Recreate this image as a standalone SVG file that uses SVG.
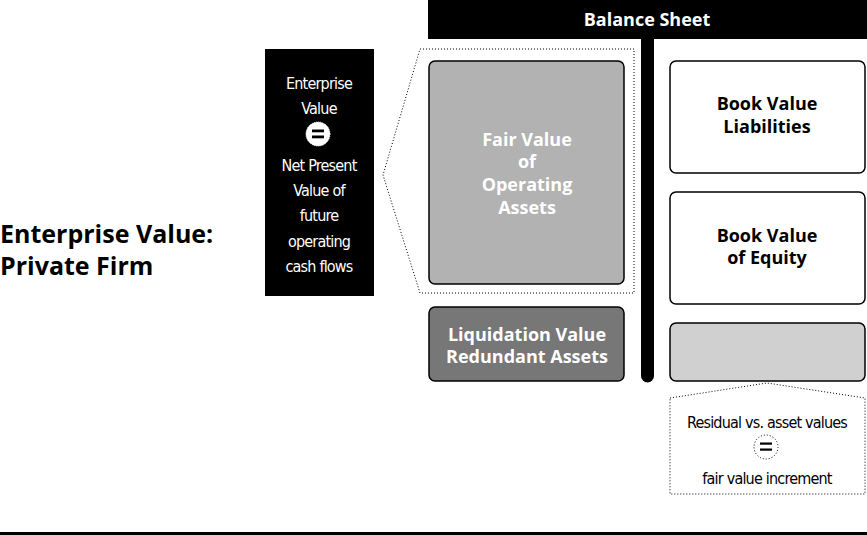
<svg xmlns="http://www.w3.org/2000/svg" width="867" height="535" viewBox="0 0 867 535">
<style>
.bold{font-family:"Open Sans","Liberation Sans",sans-serif;font-weight:bold;text-anchor:middle}
.cond{font-family:"DejaVu Sans Condensed","Liberation Sans Narrow","DejaVu Sans",sans-serif;font-stretch:condensed;font-size:16px;text-anchor:middle;letter-spacing:-0.8px}
.box{stroke:#000;stroke-width:1.5}
.dot{fill:none;stroke:#000;stroke-width:1;stroke-dasharray:1 2}
</style>
<rect width="867" height="535" fill="#fff"/>
<g id="title">
<text class="bold" x="0" y="243" font-size="25" style="text-anchor:start">Enterprise Value:</text>
<text class="bold" x="0" y="275" font-size="25" style="text-anchor:start">Private Firm</text>
</g>
<g id="balance-sheet">
<rect x="428" y="0" width="439" height="39" fill="#000"/>
<text class="bold" x="647" y="26" font-size="18" fill="#fff">Balance Sheet</text>
<path d="M641 39 H654 V376 A6.5 6.5 0 0 1 641 376 Z" fill="#000"/>
</g>
<g id="connectors">
<polygon class="dot" points="420,49 634,49 634,293 420,293 383,175"/>
<polygon class="dot" points="670,398 767,383 865,398 865,494 670,494"/>
</g>
<g id="enterprise-value">
<rect x="265" y="49" width="109" height="247" fill="#000"/>
<text class="cond" fill="#fff" x="319" y="89">Enterprise</text>
<text class="cond" fill="#fff" x="319" y="114">Value</text>
<circle cx="318" cy="134" r="12" fill="#fff" stroke="#fff" stroke-width="1" stroke-dasharray="1 1"/>
<rect x="312" y="129.5" width="12" height="2.8" fill="#000"/>
<rect x="312" y="135.5" width="12" height="2.8" fill="#000"/>
<text class="cond" fill="#fff" x="319" y="171">Net Present</text>
<text class="cond" fill="#fff" x="319" y="196">Value of</text>
<text class="cond" fill="#fff" x="319" y="221">future</text>
<text class="cond" fill="#fff" x="319" y="247">operating</text>
<text class="cond" fill="#fff" x="319" y="272">cash flows</text>
</g>
<g id="fair-value">
<rect class="box" x="429" y="61" width="195" height="223" rx="6" fill="#b2b2b2"/>
<text class="bold" font-size="18" fill="#fff" x="527" y="146">Fair Value</text>
<text class="bold" font-size="18" fill="#fff" x="527" y="168">of</text>
<text class="bold" font-size="18" fill="#fff" x="527" y="191">Operating</text>
<text class="bold" font-size="18" fill="#fff" x="527" y="214">Assets</text>
</g>
<g id="liquidation">
<rect class="box" x="429" y="307" width="195" height="74" rx="6" fill="#777"/>
<text class="bold" font-size="18" fill="#fff" x="527" y="341">Liquidation Value</text>
<text class="bold" font-size="18" fill="#fff" x="527" y="363">Redundant Assets</text>
</g>
<g id="liabilities">
<rect class="box" x="670" y="61" width="195" height="112" rx="6" fill="#fff"/>
<text class="bold" font-size="18" x="767" y="110">Book Value</text>
<text class="bold" font-size="18" x="767" y="133">Liabilities</text>
</g>
<g id="equity">
<rect class="box" x="670" y="192" width="195" height="112" rx="6" fill="#fff"/>
<text class="bold" font-size="18" x="767" y="242">Book Value</text>
<text class="bold" font-size="18" x="767" y="264">of Equity</text>
</g>
<g id="increment">
<rect class="box" x="670" y="323" width="195" height="58" rx="6" fill="#d0d0d0"/>
</g>
<g id="residual">
<text class="cond" x="767" y="428">Residual vs. asset values</text>
<circle class="dot" cx="766" cy="447" r="12"/>
<rect x="760" y="442.5" width="12" height="2.2" fill="#000"/>
<rect x="760" y="448.5" width="12" height="2.2" fill="#000"/>
<text class="cond" x="767" y="484">fair value increment</text>
</g>
<rect id="rule" x="0" y="532" width="867" height="3" fill="#000"/>
</svg>
